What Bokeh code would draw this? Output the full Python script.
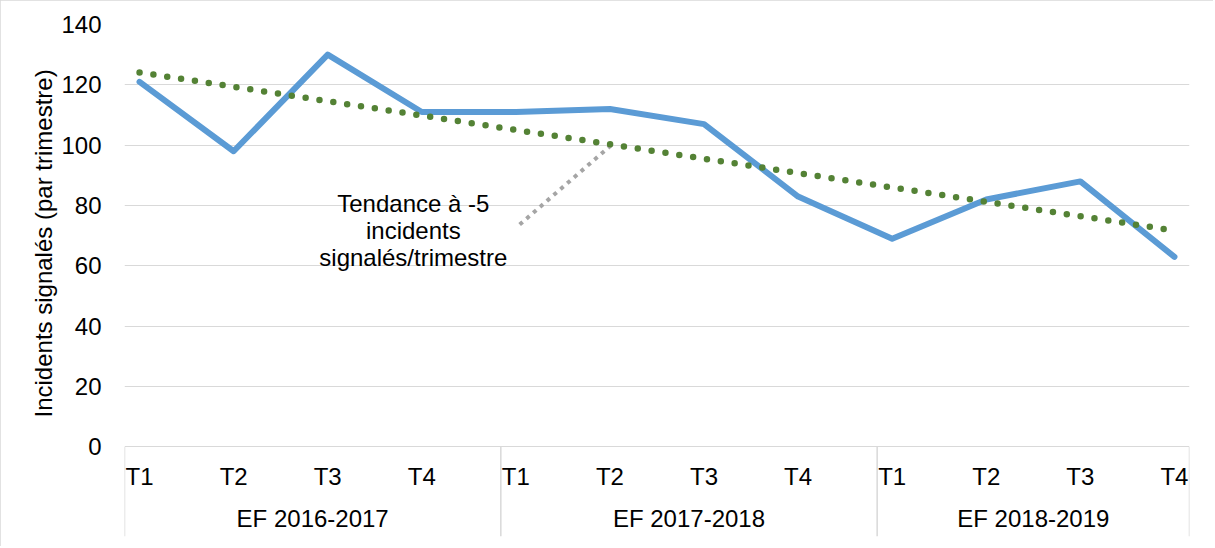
import numpy as np
from bokeh.plotting import figure
from bokeh.models import Range1d, FixedTicker, Title
from bokeh.core.properties import value
from bokeh.embed import file_html
from bokeh.resources import INLINE

# ---- data ----
quarters = ["T1", "T2", "T3", "T4"] * 3
fiscal_years = ["EF 2016-2017", "EF 2017-2018", "EF 2018-2019"]
incidents = [121, 98, 130, 111, 111, 112, 107, 83, 69, 82, 88, 63]
y_ticks = [0, 20, 40, 60, 80, 100, 120, 140]
y_title = "Incidents signalés (par trimestre)"
annotation_lines = ["Tendance à -5", "incidents", "signalés/trimestre"]

# ---- derived ----
xs = np.arange(len(incidents))
slope, intercept = np.polyfit(xs, incidents, 1)
trend_x = [xs[0], xs[-1]]
trend_y = [intercept + slope * v for v in trend_x]

FONT = value("Liberation Sans")
FS = "24px"
PAD = 0.16          # offset of a point from its category cell's left edge
Y_MIN = -29.66      # room under the zero line for the category labels
Y_MAX = 140

p = figure(width=1213, height=546,
           x_range=Range1d(-PAD, len(incidents) - 1 + PAD),
           y_range=Range1d(Y_MIN, Y_MAX),
           x_axis_location=None,
           output_backend="svg", toolbar_location=None,
           min_border_left=124, min_border_right=24,
           min_border_top=24, min_border_bottom=10)
p.outline_line_color = None
p.background_fill_color = "white"
p.border_fill_color = "white"
p.styles = {"outline": "2px solid #D9D9D9", "outline-offset": "-2px"}

# y axis
ax = p.yaxis[0]
ax.ticker = FixedTicker(ticks=y_ticks)
ax.axis_line_color = None
ax.major_tick_line_color = None
ax.minor_tick_line_color = None
ax.major_label_text_font = "Liberation Sans"
ax.major_label_text_font_size = FS
ax.major_label_text_color = "#000000"
ax.major_label_standoff = 17

p.ygrid.ticker = FixedTicker(ticks=y_ticks)
p.ygrid.grid_line_color = "#D9D9D9"
p.ygrid.grid_line_width = 1
p.xgrid.visible = False

# y axis title, placed along the 0..140 part of the frame
p.add_layout(Title(text=y_title, align="left", offset=119,
                   text_font="Liberation Sans", text_font_size=FS,
                   text_font_style="normal", text_color="#000000",
                   standoff=4), "left")

# category separators (group boundaries) under the zero line
n_groups = len(fiscal_years)
per_group = len(quarters) // n_groups
bounds = [-PAD + per_group * k for k in range(n_groups)] + [len(incidents) - 1 + PAD]
p.segment(x0=bounds, y0=[0] * len(bounds), x1=bounds, y1=[Y_MIN] * len(bounds),
          line_color="#D9D9D9", line_width=1.5)

# quarter labels and group labels
p.text(x=list(xs), y=[-9.8] * len(xs), text=quarters,
       text_font=FONT, text_font_size=FS, text_color="#000000",
       text_align="center", text_baseline="middle")
group_centers = [(bounds[k] + bounds[k + 1]) / 2 for k in range(n_groups)]
p.text(x=group_centers, y=[-23.7] * n_groups, text=fiscal_years,
       text_font=FONT, text_font_size=FS, text_color="#000000",
       text_align="center", text_baseline="middle")

# leader line from annotation to trend line
lead_x = [4.04, 5.02]
lead_y = [73.7, intercept + slope * lead_x[1]]
p.line(lead_x, lead_y, line_color="#A5A5A5", line_width=4,
       line_dash="4 5", line_cap="butt")

# data series
p.line(list(xs), incidents, line_color="#5B9BD5", line_width=6,
       line_join="round", line_cap="round")

# trend line
p.line(trend_x, trend_y, line_color="#548235", line_width=6.5,
       line_dash="0 14", line_cap="round")

# annotation text
p.text(x=[2.91] * 3, y=[80.7, 71.7, 62.8], text=annotation_lines,
       text_font=FONT, text_font_size=FS, text_color="#000000",
       text_align="center", text_baseline="alphabetic")

open("out.html", "w").write(file_html(p, INLINE))
